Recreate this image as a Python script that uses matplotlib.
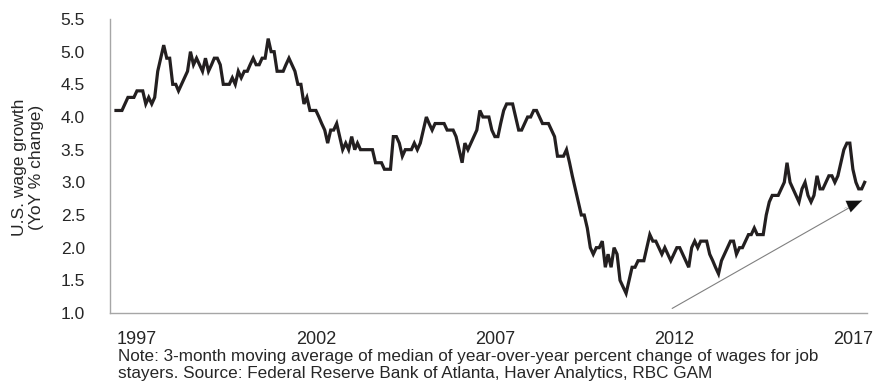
import matplotlib
matplotlib.use("Agg")
import matplotlib.pyplot as plt
import pandas as pd

# Median wage growth of job stayers, 3-month moving average (% y/y), monthly from Jun 1996
wage_growth = [
    4.1, 4.1, 4.1, 4.2, 4.3, 4.3, 4.3, 4.4, 4.4, 4.4,
    4.2, 4.3, 4.2, 4.3, 4.7, 4.9, 5.1, 4.9, 4.9, 4.5,
    4.5, 4.4, 4.5, 4.6, 4.7, 5.0, 4.8, 4.9, 4.8, 4.7,
    4.9, 4.7, 4.8, 4.9, 4.9, 4.8, 4.5, 4.5, 4.5, 4.6,
    4.5, 4.7, 4.6, 4.7, 4.7, 4.8, 4.9, 4.8, 4.8, 4.9,
    4.9, 5.2, 5.0, 5.0, 4.7, 4.7, 4.7, 4.8, 4.9, 4.8,
    4.7, 4.5, 4.5, 4.2, 4.3, 4.1, 4.1, 4.1, 4.0, 3.9,
    3.8, 3.6, 3.8, 3.8, 3.9, 3.7, 3.5, 3.6, 3.5, 3.7,
    3.5, 3.6, 3.5, 3.5, 3.5, 3.5, 3.5, 3.3, 3.3, 3.3,
    3.2, 3.2, 3.2, 3.7, 3.7, 3.6, 3.4, 3.5, 3.5, 3.5,
    3.6, 3.5, 3.6, 3.8, 4.0, 3.9, 3.8, 3.9, 3.9, 3.9,
    3.9, 3.8, 3.8, 3.8, 3.7, 3.5, 3.3, 3.6, 3.5, 3.6,
    3.7, 3.8, 4.1, 4.0, 4.0, 4.0, 3.8, 3.7, 3.7, 3.9,
    4.1, 4.2, 4.2, 4.2, 4.0, 3.8, 3.8, 3.9, 4.0, 4.0,
    4.1, 4.1, 4.0, 3.9, 3.9, 3.9, 3.8, 3.7, 3.4, 3.4,
    3.4, 3.5, 3.3, 3.1, 2.9, 2.7, 2.5, 2.5, 2.3, 2.0,
    1.9, 2.0, 2.0, 2.1, 1.7, 1.9, 1.7, 2.0, 1.9, 1.5,
    1.4, 1.3, 1.5, 1.7, 1.7, 1.8, 1.8, 1.8, 2.0, 2.2,
    2.1, 2.1, 2.0, 1.9, 2.0, 1.9, 1.8, 1.9, 2.0, 2.0,
    1.9, 1.8, 1.7, 2.0, 2.1, 2.0, 2.1, 2.1, 2.1, 1.9,
    1.8, 1.7, 1.6, 1.8, 1.9, 2.0, 2.1, 2.1, 1.9, 2.0,
    2.0, 2.1, 2.2, 2.2, 2.3, 2.2, 2.2, 2.2, 2.5, 2.7,
    2.8, 2.8, 2.8, 2.9, 3.0, 3.3, 3.0, 2.9, 2.8, 2.7,
    2.9, 3.0, 2.8, 2.7, 2.8, 3.1, 2.9, 2.9, 3.0, 3.1,
    3.1, 3.0, 3.1, 3.3, 3.5, 3.6, 3.6, 3.2, 3.0, 2.9,
    2.9, 3.0,
]
dates = pd.date_range("1996-06-01", periods=len(wage_growth), freq="MS")

year_ticks = [1997, 2002, 2007, 2012, 2017]
y_ticks = [1.0, 1.5, 2.0, 2.5, 3.0, 3.5, 4.0, 4.5, 5.0, 5.5]

ylabel_text = "U.S. wage growth\n(YoY % change)"
note_text = ("Note: 3-month moving average of median of year-over-year percent change of wages for job\n"
             "stayers. Source: Federal Reserve Bank of Atlanta, Haver Analytics, RBC GAM")

plt.rcParams["font.family"] = ["Liberation Sans", "DejaVu Sans"]
text_color = "#262626"

fig = plt.figure(figsize=(8.84, 3.87), dpi=100)
ax = fig.add_axes([110 / 884, 1 - 313 / 387, (867 - 110) / 884, (313 - 19) / 387])

ax.plot(dates, wage_growth, color="#231f20", lw=2.3, solid_joinstyle="miter")

ax.set_ylim(1.0, 5.5)
ax.set_yticks(y_ticks)
ax.set_yticklabels([f"{v:.1f}" for v in y_ticks], fontsize=12.5)
ax.set_xlim(pd.Timestamp("1996-04-01"), pd.Timestamp("2017-05-25"))
ax.set_xticks([pd.Timestamp(f"{y}-01-01") for y in year_ticks])
ax.set_xticklabels([str(y) for y in year_ticks], fontsize=13)
ax.tick_params(axis="y", length=0, pad=18, colors=text_color)
ax.tick_params(axis="x", length=0, pad=13, colors=text_color)

for side in ("top", "right"):
    ax.spines[side].set_visible(False)
for side in ("left", "bottom"):
    ax.spines[side].set_color("#a6a6a6")
    ax.spines[side].set_linewidth(1.0)

# trend arrow across the recovery: thin grey shaft, black head
tip = (pd.Timestamp("2017-04-01"), 2.72)
ax.annotate("", xy=tip, xytext=(pd.Timestamp("2011-12-15"), 1.07),
            arrowprops=dict(arrowstyle="-", color="#808080", lw=0.8,
                            shrinkA=0, shrinkB=0))
ax.annotate("", xy=tip, xytext=(pd.Timestamp("2016-10-01"), 2.60),
            arrowprops=dict(arrowstyle="-|>,head_length=0.75,head_width=0.32",
                            color="#111111", lw=0.1, shrinkA=0, shrinkB=0,
                            mutation_scale=14))

fig.text(28 / 884, 1 - 167 / 387, ylabel_text, rotation=90, ha="center", va="center",
         fontsize=12.5, color=text_color, linespacing=1.1)
fig.text(118 / 884, 1 - 349 / 387, note_text, ha="left", va="top",
         fontsize=12.3, color=text_color, linespacing=1.15)

fig.savefig("out.png", dpi=100)
